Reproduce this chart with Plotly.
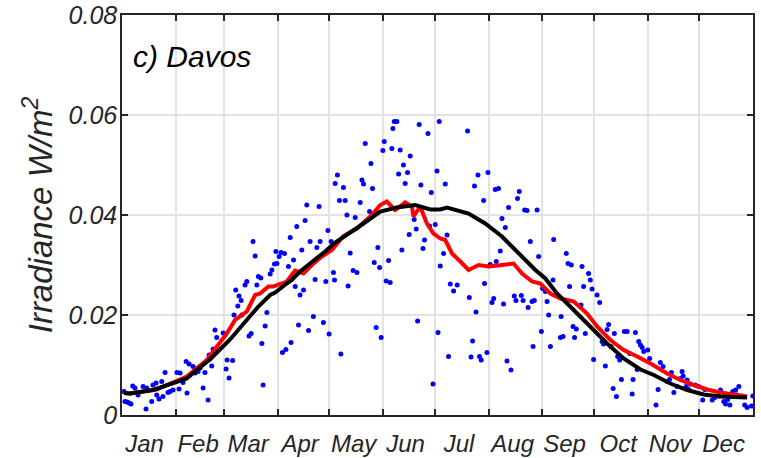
import plotly.graph_objects as go

# ---------------- data ----------------
months = ["Jan", "Feb", "Mar", "Apr", "May", "Jun", "Jul", "Aug", "Sep", "Oct", "Nov", "Dec"]
month_starts = [31, 59, 90, 120, 151, 181, 212, 243, 273, 304, 334]
month_mid = [13, 44, 73, 103, 134, 164, 195, 226, 256, 287, 317, 348]
y_ticks = [0, 0.02, 0.04, 0.06, 0.08]
y_ticktext = ["0", "0.02", "0.04", "0.06", "0.08"]

# daily observations (blue dots)
obs_day = [
    1.2, 1.7, 2.9, 4.2, 5.2, 6.2, 7.5, 9.3, 12.2, 13.9, 14.3, 17.2, 17.9, 19.7, 20.1, 21.4, 23.0, 23.7,
    24.9, 26.6, 27.8, 29.5, 31.8, 33.6, 33.0, 35.3, 37.1, 37.6, 38.8, 41.1, 42.3, 44.0, 45.2, 46.9,
    48.0, 49.8, 50.4, 51.9, 52.7, 53.8, 54.8, 58.5, 60.2, 60.8, 61.9, 64.0,
    64.8, 65.8, 67.0, 67.7, 68.9, 69.3, 71.2, 72.2, 73.5, 74.7, 75.8, 77.0, 78.0, 78.9, 80.3, 80.9,
    81.6, 82.8, 83.8, 85.7, 86.7, 88.2, 89.6, 89.0, 90.9, 92.0, 94.0, 92.8, 94.8, 97.8, 96.3, 99.2,
    97.3, 101.1, 100.2, 102.1, 103.0, 104.0, 105.0, 105.9, 106.9, 107.9, 108.8, 110.7, 111.7, 112.7,
    114.0, 114.6, 116.5, 117.9, 119.1, 119.8, 121.0, 122.3, 122.9, 123.3, 126.6, 130.8, 132.0, 133.7,
    135.9,
    124.6, 128.1, 125.8, 129.1, 130.1, 134.9, 137.8, 138.8, 139.7, 140.7, 143.2, 144.0, 144.9, 145.9,
    147.0, 148.0, 149.0, 149.9, 150.9, 151.7, 152.8, 154.2, 155.1, 156.1, 156.7, 157.5, 159.0, 160.0,
    160.9, 161.9, 162.8, 163.8, 165.2, 166.1, 166.7, 169.0, 170.2, 171.0, 171.9, 172.9, 174.1, 175.0,
    177.0, 177.9, 178.9, 179.9, 181.2, 182.2, 182.8, 183.5, 184.1, 186.0, 187.0, 188.0, 188.9, 189.9,
    191.8, 193.9, 199.9, 200.9, 201.9, 202.8, 203.9, 204.8, 205.9, 206.8, 207.8, 209.2, 209.7, 211.1,
    211.7, 213.0, 214.0, 215.0, 215.9, 216.5, 217.8, 218.8, 219.8, 220.7, 221.7, 222.7, 223.6, 225.0,
    226.9, 227.9, 228.8, 229.8, 231.0, 232.0, 232.9, 234.3, 234.9, 236.2, 237.2, 237.8, 238.5, 240.1,
    241.0, 242.6, 243.3,
    244.9, 245.9, 246.8, 247.8, 249.3, 249.7, 253.6, 254.0, 255.1, 257.0, 258.0, 258.9, 259.9, 260.9,
    261.8, 262.8, 265.5, 266.1, 267.0, 268.0, 269.9, 270.9, 271.9, 272.8, 274.8, 276.3, 277.7, 278.6,
    279.6, 280.6, 281.5, 282.9, 284.1, 284.8, 286.0, 286.7, 287.9, 288.9, 290.6, 292.2, 293.7, 295.1,
    295.6, 297.0, 298.0, 298.9, 299.9, 300.9, 301.8, 304.1, 305.2,
    308.9, 310.1, 311.4, 313.0, 315.3, 316.7, 317.8, 319.2, 321.1, 323.0, 324.0, 324.6, 326.9, 326.3,
    327.8, 328.8, 331.7, 333.6, 335.9, 337.1, 341.4, 342.9, 345.2, 346.2, 348.1, 349.1, 350.4, 351.6,
    353.3, 354.9, 356.8, 355.8, 358.7, 360.2, 361.6, 364.1, 364.9,
]
obs_val = [
    0.0047, 0.0027, 0.0026, 0.0024, 0.0022, 0.0058, 0.0054, 0.0040, 0.0057, 0.0012, 0.0054, 0.0027, 0.0060, 0.0064, 0.0040, 0.0032, 0.0067, 0.0037,
    0.0085, 0.0045, 0.0047, 0.0050, 0.0085, 0.0084, 0.0052, 0.0065, 0.0107, 0.0044, 0.0102, 0.0097, 0.0084, 0.0087, 0.0094, 0.0054,
    0.0085, 0.0030, 0.0120, 0.0098, 0.0132, 0.0170, 0.0155, 0.0164, 0.0092, 0.0110, 0.0074, 0.0109,
    0.0200, 0.0250, 0.0218, 0.0238, 0.0229, 0.0200, 0.0260, 0.0267, 0.0158, 0.0163, 0.0347, 0.0318, 0.0260, 0.0277, 0.0274, 0.0143,
    0.0060, 0.0178, 0.0205, 0.0282, 0.0290, 0.0302, 0.0303, 0.0327, 0.0317, 0.0325, 0.0323, 0.0125, 0.0131, 0.0145, 0.0297, 0.0310,
    0.0355, 0.0377, 0.0257, 0.0180, 0.0240, 0.0330, 0.0250, 0.0389, 0.0420, 0.0169, 0.0347, 0.0197, 0.0271, 0.0335,
    0.0417, 0.0347, 0.0185, 0.0267, 0.0369, 0.0162, 0.0347, 0.0285, 0.0270, 0.0463, 0.0122, 0.0258, 0.0324, 0.0289,
    0.0285,
    0.0480, 0.0455, 0.0429, 0.0429, 0.0400, 0.0395, 0.0425, 0.0470, 0.0462, 0.0543, 0.0407, 0.0503, 0.0453, 0.0305,
    0.0175, 0.0335, 0.0295, 0.0155, 0.0529, 0.0547, 0.0268, 0.0309, 0.0265, 0.0533, 0.0573, 0.0587, 0.0587, 0.0482,
    0.0530, 0.0330, 0.0500, 0.0463, 0.0485, 0.0361, 0.0518, 0.0391, 0.0372, 0.0188, 0.0581, 0.0460, 0.0333, 0.0350,
    0.0563, 0.0378, 0.0445, 0.0062, 0.0381, 0.0488, 0.0165, 0.0587, 0.0298, 0.0323, 0.0462, 0.0360, 0.0117, 0.0262,
    0.0248, 0.0260, 0.0568, 0.0235, 0.0116, 0.0148, 0.0458, 0.0206, 0.0480, 0.0117, 0.0110, 0.0429, 0.0263, 0.0125,
    0.0485, 0.0301, 0.0225, 0.0233, 0.0451, 0.0307, 0.0453, 0.0328, 0.0393, 0.0222, 0.0375, 0.0108, 0.0415, 0.0090,
    0.0238, 0.0229, 0.0433, 0.0447, 0.0239, 0.0229, 0.0410, 0.0409, 0.0215, 0.0347, 0.0227, 0.0137, 0.0229, 0.0410,
    0.0317, 0.0167, 0.0253,
    0.0247, 0.0227, 0.0200, 0.0137, 0.0270, 0.0351, 0.0155, 0.0197, 0.0157, 0.0323, 0.0303, 0.0257, 0.0300, 0.0177,
    0.0155, 0.0172, 0.0220, 0.0297, 0.0257, 0.0163, 0.0283, 0.0270, 0.0252, 0.0111, 0.0240, 0.0225, 0.0147, 0.0142,
    0.0098, 0.0171, 0.0181, 0.0137, 0.0053, 0.0163, 0.0037, 0.0117, 0.0110, 0.0071, 0.0167, 0.0167, 0.0123, 0.0042,
    0.0071, 0.0165, 0.0091, 0.0147, 0.0140, 0.0135, 0.0127, 0.0130, 0.0113,
    0.0020, 0.0051, 0.0105, 0.0097, 0.0067, 0.0071, 0.0085, 0.0045, 0.0057, 0.0073, 0.0087, 0.0078, 0.0070, 0.0057,
    0.0051, 0.0062, 0.0060, 0.0057, 0.0030, 0.0051, 0.0030, 0.0035, 0.0038, 0.0050, 0.0027, 0.0022, 0.0031, 0.0020,
    0.0047, 0.0050, 0.0057, 0.0040, 0.0038, 0.0020, 0.0015, 0.0018, 0.0038,
]

# running mean of the observed year (red line)
run_day = [1.2, 4.6, 20.0, 37.5, 49.0, 54.8, 60.6, 65.4, 72.2, 77.0, 79.9, 84.7, 87.6, 92.4, 95.3, 100.1,
           105.0, 109.8, 115.6, 121.4, 128.1, 135.9, 143.6, 149.4, 153.2, 158.0, 163.8, 167.7, 168.6,
           172.5, 176.4, 180.2, 184.1, 187.0, 190.9, 195.7, 200.5, 206.3, 212.1, 219.8, 226.5, 231.4,
           237.2, 242.0, 247.8, 253.6, 261.3, 269.0, 274.8, 282.5, 290.2, 298.0, 305.7, 315.3, 323.0,
           330.7, 338.5, 346.2, 353.9, 361.6]
run_val = [0.0044, 0.0043, 0.0051, 0.0077, 0.0110, 0.0137, 0.0163, 0.0190, 0.0207, 0.0240, 0.0243, 0.0257,
           0.0257, 0.0263, 0.0267, 0.0289, 0.0283, 0.0300, 0.0317, 0.0330, 0.0358, 0.0373, 0.0397, 0.0420,
           0.0427, 0.0410, 0.0425, 0.0417, 0.0397, 0.0417, 0.0383, 0.0363, 0.0353, 0.0350, 0.0323, 0.0307,
           0.0290, 0.0300, 0.0297, 0.0300, 0.0303, 0.0283, 0.0267, 0.0263, 0.0243, 0.0233, 0.0227, 0.0203,
           0.0177, 0.0150, 0.0130, 0.0117, 0.0103, 0.0083, 0.0070, 0.0060, 0.0051, 0.0045, 0.0040, 0.0037]

# climatology (black line)
clim_day = [1.2, 4.6, 17.9, 31.7, 37.5, 43.2, 50.9, 62.5, 69.3, 76.0, 78.9, 85.7, 88.6, 95.3, 98.2, 103.0,
            107.8, 114.6, 117.5, 123.3, 130.1, 139.7, 149.4, 159.0, 169.6, 178.3, 184.1, 188.0, 200.5,
            210.1, 219.8, 229.4, 239.1, 244.9, 251.6, 261.3, 270.9, 280.6, 290.2, 299.9, 307.6, 317.2,
            326.9, 336.5, 346.2, 355.8, 361.6]
clim_val = [0.0044, 0.0043, 0.0050, 0.0067, 0.0073, 0.0090, 0.0111, 0.0151, 0.0178, 0.0203, 0.0217, 0.0240,
            0.0245, 0.0263, 0.0270, 0.0287, 0.0300, 0.0317, 0.0327, 0.0345, 0.0360, 0.0383, 0.0407, 0.0415,
            0.0420, 0.0411, 0.0411, 0.0415, 0.0403, 0.0383, 0.0357, 0.0323, 0.0290, 0.0273, 0.0243, 0.0210,
            0.0177, 0.0143, 0.0113, 0.0091, 0.0080, 0.0063, 0.0050, 0.0041, 0.0037, 0.0035, 0.0035]

# ---------------- figure ----------------
FONT = "Liberation Sans, Arial, Helvetica, sans-serif"
AX = "#262626"
GRID = "#e3e3e3"

fig = go.Figure()
fig.add_trace(go.Scatter(x=obs_day, y=obs_val, mode="markers",
                         marker=dict(color="#0000ff", size=5, line=dict(width=0)),
                         showlegend=False, hoverinfo="x+y"))
fig.add_trace(go.Scatter(x=run_day, y=run_val, mode="lines",
                         line=dict(color="#ff0000", width=4), showlegend=False))
fig.add_trace(go.Scatter(x=clim_day, y=clim_val, mode="lines",
                         line=dict(color="#000000", width=4), showlegend=False))

fig.update_layout(
    width=761, height=458,
    margin=dict(l=122, r=8, t=15, b=43, autoexpand=False),
    paper_bgcolor="white", plot_bgcolor="white",
    font=dict(family=FONT, color=AX),
    xaxis=dict(
        range=[0, 365], tickmode="array", tickvals=month_mid, ticktext=months,
        ticks="", showgrid=False, zeroline=False, automargin=False, ticklabelstandoff=6,
        tickfont=dict(family=FONT, size=24, color=AX, style="italic"),
        showline=True, linecolor=AX, linewidth=1.5, mirror="ticks",
        minor=dict(tickmode="array", tickvals=month_starts, ticks="inside", ticklen=6,
                   tickwidth=1.5, tickcolor=AX, showgrid=True, gridcolor=GRID, gridwidth=1.5),
    ),
    yaxis=dict(
        range=[0, 0.08], tickmode="array", tickvals=y_ticks, ticktext=y_ticktext,
        ticks="inside", ticklen=6, tickwidth=1.5, tickcolor=AX, ticklabelstandoff=-2,
        showgrid=True, gridcolor=GRID, gridwidth=1.5, zeroline=False, automargin=False,
        tickfont=dict(family=FONT, size=25, color=AX, style="italic"),
        showline=True, linecolor=AX, linewidth=1.5, mirror="ticks",
        title=dict(text="Irradiance W/m<sup>2</sup>", standoff=6,
                   font=dict(family=FONT, size=33, color=AX, style="italic")),
    ),
    annotations=[dict(text="c) Davos", xref="paper", yref="paper", x=0.015, y=0.895,
                      xanchor="left", yanchor="middle", showarrow=False,
                      font=dict(family=FONT, size=30, color="#000000", style="italic"))],
)

fig.write_html("out.html", config={"displayModeBar": False},
               post_script="document.body.style.margin='0';")
